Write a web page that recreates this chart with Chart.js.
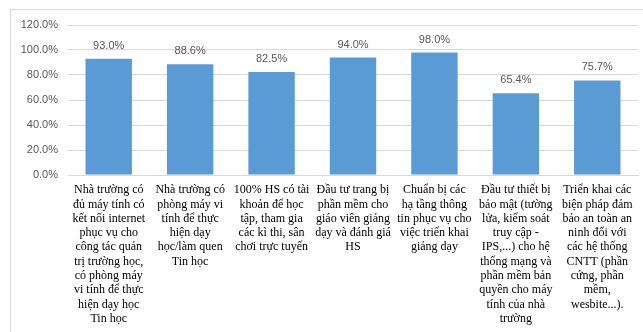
<!DOCTYPE html>
<html>
<head>
<meta charset="utf-8">
<script src="https://cdn.jsdelivr.net/npm/chart.js"></script>
<style>
  html, body { margin: 0; padding: 0; background: #fff; }
  #wrap { position: relative; width: 643px; height: 332px; overflow: hidden; }
  #frame { position: absolute; left: 10px; top: 9px; width: 650px; height: 340px; border: 1px solid #d9d9d9; }
  #chart { position: absolute; left: 0; top: 0; }
</style>
</head>
<body>
<div id="wrap">
  <div id="frame"></div>
  <canvas id="chart" width="643" height="332"></canvas>
</div>
<script>
// danh mục (đã ngắt dòng như hình gốc)
const categories = [
  ['Nhà trường có', 'đủ máy tính có', 'kết nối internet', 'phục vụ cho', 'công tác quản', 'trị trường học,', 'có phòng máy', 'vi tính để thực', 'hiện dạy học', 'Tin học'],
  ['Nhà trường có', 'phòng máy vi', 'tính để thực', 'hiện dạy', 'học/làm quen', 'Tin học'],
  ['100% HS có tài', 'khoản để học', 'tập, tham gia', 'các kì thi, sân', 'chơi trực tuyến'],
  ['Đầu tư trang bị', 'phần mềm cho', 'giáo viên giảng', 'dạy và đánh giá', 'HS'],
  ['Chuẩn bị các', 'hạ tầng thông', 'tin phục vụ cho', 'việc triển khai', 'giảng dạy'],
  ['Đầu tư thiết bị', 'bảo mật (tường', 'lửa, kiểm soát', 'truy cập -', 'IPS,...) cho hệ', 'thống mạng và', 'phần mềm bản', 'quyền cho máy', 'tính của nhà', 'trường'],
  ['Triển khai các', 'biện pháp đảm', 'bảo an toàn an', 'ninh đối với', 'các hệ thống', 'CNTT (phần', 'cứng, phần', 'mềm,', 'wesbite...).']
];
const values = [0.930, 0.886, 0.825, 0.940, 0.980, 0.654, 0.757];
const yTicks = [0, 0.2, 0.4, 0.6, 0.8, 1.0, 1.2];

const pct = v => (v * 100).toFixed(1) + '%';

// nhãn giá trị phía trên cột
const valueLabels = {
  id: 'valueLabels',
  afterDatasetsDraw(chart) {
    const { ctx } = chart;
    const meta = chart.getDatasetMeta(0);
    ctx.save();
    ctx.font = '11px "Liberation Sans", Arial, sans-serif';
    ctx.fillStyle = '#595959';
    ctx.textAlign = 'center';
    ctx.textBaseline = 'middle';
    meta.data.forEach((bar, i) => {
      ctx.fillText(pct(values[i]), bar.x, bar.y - 13);
    });
    ctx.restore();
  }
};

new Chart(document.getElementById('chart'), {
  type: 'bar',
  data: {
    labels: categories,
    datasets: [{
      data: values,
      backgroundColor: '#5b9bd5',
      borderWidth: 0,
      barPercentage: 0.57,
      categoryPercentage: 1
    }]
  },
  options: {
    responsive: false,
    animation: false,
    layout: { padding: { left: 0, top: 25, right: 5, bottom: 0 } },
    plugins: { legend: { display: false }, tooltip: { enabled: false } },
    scales: {
      x: {
        grid: { display: false, drawTicks: false },
        border: { color: '#d9d9d9' },
        ticks: {
          autoSkip: false, maxRotation: 0, minRotation: 0, padding: 8,
          color: '#000',
          font: { family: '"Liberation Serif", "Times New Roman", serif', size: 12, lineHeight: 1.19 }
        },
        afterFit: s => { s.height = 157; }
      },
      y: {
        min: 0, max: 1.2,
        afterBuildTicks: s => { s.ticks = yTicks.map(v => ({ value: v })); },
        grid: { color: '#d9d9d9', drawTicks: false },
        border: { display: false },
        ticks: {
          padding: 10, color: '#595959',
          font: { family: '"Liberation Sans", Arial, sans-serif', size: 11 },
          callback: v => pct(v)
        },
        afterFit: s => { s.width = 68; }
      }
    }
  },
  plugins: [valueLabels]
});
</script>
</body>
</html>
